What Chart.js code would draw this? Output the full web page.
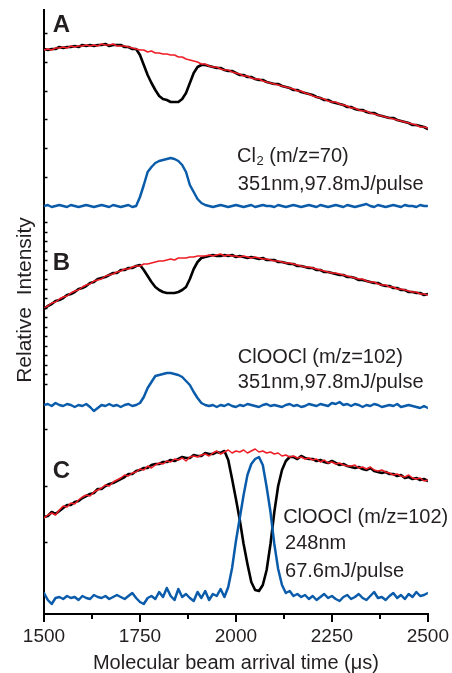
<!DOCTYPE html>
<html><head><meta charset="utf-8">
<script src="https://cdn.jsdelivr.net/npm/chart.js@4.4.0/dist/chart.umd.min.js"></script>
<style>html,body{margin:0;padding:0;background:#fff;}canvas{display:block;}</style>
</head><body>
<canvas id="c" width="452" height="673"></canvas>
<script>
// Molecular beam arrival time (µs)
const times = [1500,1510,1520,1530,1540,1550,1560,1570,1580,1590,1600,1610,1620,1630,1640,1650,1660,1670,1680,1690,1700,1710,1720,1730,1740,1750,1760,1770,1780,1790,1800,1810,1820,1830,1840,1850,1860,1870,1880,1890,1900,1910,1920,1930,1940,1950,1960,1970,1980,1990,2000,2010,2020,2030,2040,2050,2060,2070,2080,2090,2100,2110,2120,2130,2140,2150,2160,2170,2180,2190,2200,2210,2220,2230,2240,2250,2260,2270,2280,2290,2300,2310,2320,2330,2340,2350,2360,2370,2380,2390,2400,2410,2420,2430,2440,2450,2460,2470,2480,2490,2500];

// Panel A: Cl2 (m/z=70), 351 nm
const blackA = [565,564,565,565,567,566,567,567,568,567, 569,568,569,568,569,569,570,568,569,569, 569,567,567,565,565,559,549,539,531,524, 518,515,514,512,512,512,515,521,531,541, 547,549,549,548,547,546,546,544,543,543, 541,539,539,537,537,535,534,534,532,531, 530,530,528,527,526,524,524,522,521,520, 519,517,516,514,514,512,511,510,509,507, 507,505,504,504,502,501,501,499,498,497, 496,496,494,493,492,491,489,489,488,487, 485];
const redA = [564,565,564,566,566,567,566,568,567,568, 568,569,568,569,568,570,569,569,570,568, 568,568,567,566,565,564,564,562,563,561, 561,560,560,559,559,557,557,555,554,553, 552,550,550,548,547,547,545,544,544,542, 541,540,538,538,536,535,535,533,532,531, 530,529,528,527,526,525,523,523,521,520, 518,517,516,515,513,512,512,510,509,508, 506,506,504,503,503,501,500,499,498,497, 496,495,494,493,492,491,490,489,487,487, 486];
const blueA = [408,409,407,408,409,408,407,409,408,407, 408,409,408,407,408,409,408,407,409,408, 407,408,409,407,408,417,429,442,447,451, 453,454,455,456,455,453,449,442,429,422, 415,411,409,408,407,408,409,408,407,408, 409,408,407,408,409,407,408,409,408,408, 407,409,408,407,408,409,408,407,408,409, 408,407,409,408,407,408,409,408,407,409, 408,407,408,409,410,408,407,409,408,407, 408,409,408,407,409,408,408,407,409,408, 408];

// Panel B: ClOOCl (m/z=102), 351 nm
const blackB = [305,308,310,313,314,316,319,320,322,325, 326,328,331,332,335,336,337,339,341,341, 344,344,346,346,348,349,344,338,332,327, 324,322,321,321,321,322,324,327,335,345, 352,356,357,358,359,358,358,359,358,359, 357,358,357,356,357,356,355,356,354,354, 354,352,352,351,350,350,348,348,347,346, 346,344,344,342,342,341,340,339,339,337, 337,336,334,334,333,332,331,331,329,328, 328,326,326,324,324,322,322,321,321,319, 320];
const redB = [306,308,311,312,315,317,318,321,323,324, 327,329,330,333,334,335,338,339,340,342, 343,345,345,347,348,348,350,350,351,352, 353,353,354,355,354,356,356,356,357,357, 358,358,358,359,358,359,360,358,359,358, 358,357,358,357,356,357,356,355,355,354, 353,353,352,351,351,350,349,348,347,347, 346,345,344,343,342,341,341,340,339,338, 337,336,335,335,333,332,332,330,329,329, 327,327,325,325,324,323,322,322,320,320, 319];
const blueB = [209,210,208,211,209,208,210,209,207,209, 208,210,207,203,206,209,208,210,208,209, 207,209,210,208,209,211,217,226,232,238, 239,240,241,241,240,239,237,233,229,222, 216,211,209,208,209,207,209,208,210,208, 207,209,208,210,209,208,207,209,210,208, 209,208,207,209,210,208,209,207,208,210, 209,208,210,209,208,211,210,212,209,210, 208,210,209,207,209,208,210,209,207,208, 209,208,210,207,208,209,208,207,206,208, 206];

// Panel C: ClOOCl (m/z=102), 248 nm
const blackC = [97,98,102,100,103,106,109,109,112,113, 116,118,120,121,125,125,128,130,131,133, 135,137,140,140,143,144,146,146,149,150, 150,152,152,154,153,155,157,156,156,159, 158,158,161,160,160,162,161,163,154,135, 115,94,70,50,32,24,23,29,44,70, 102,128,144,153,157,157,155,158,156,155, 155,153,154,152,151,153,151,149,150,148, 147,146,147,145,144,146,143,142,141,142, 140,140,138,139,136,137,135,136,134,135, 133];
const redC = [96,99,101,99,104,108,107,111,110,114, 117,119,118,122,124,126,129,128,132,134, 136,139,138,141,142,145,144,148,146,149, 151,150,153,152,155,154,156,153,157,158, 157,159,160,158,161,163,160,162,164,161, 163,162,164,161,163,165,162,163,161,162, 160,161,158,159,157,158,156,157,155,156, 154,155,152,154,151,152,150,151,149,148, 148,149,146,147,145,147,144,143,144,142, 141,139,140,138,137,139,136,135,136,133, 134];
const blueC = [21,14,10,16,17,15,18,16,17,14, 18,16,15,19,17,16,18,15,17,19, 17,15,18,21,16,12,10,16,18,15, 22,17,26,18,14,25,17,20,16,13, 22,16,23,14,20,18,25,17,27,46, 73,96,119,139,150,155,157,149,127,102, 70,45,29,21,23,18,20,17,19,15, 18,14,17,20,16,18,15,13,17,19, 15,17,20,16,14,18,22,16,17,14, 18,21,16,19,15,20,17,22,18,19, 21];

// Axis ticks
const xMajor = [1500,1750,2000,2250,2500];
const xMinor = [1625,1875,2125,2375];
const yTicks = [581,552,523,495,466,437, 392,382,373,363,354,344,335,325,316,306,297,287,278,268,259,249,240,230, 185,128,72];

const FONT = '"Liberation Sans", Arial, Helvetica, sans-serif';
const INK = '#231f20';
const BLACK = '#000000', RED = '#ee1d25', BLUE = '#0a5cab';

const pts = vals => vals.map((v, i) => ({x: times[i], y: v}));
const ds = (vals, color, w) => ({data: pts(vals), borderColor: color, borderWidth: w, pointRadius: 0, fill: false, tension: 0});

const decor = {
  id: 'decor',
  afterDraw(chart) {
    const {ctx, chartArea: ca} = chart;
    const x = chart.scales.x, y = chart.scales.y;
    ctx.save();
    ctx.strokeStyle = '#000';
    ctx.lineWidth = 1.5;
    yTicks.forEach(v => {
      const py = Math.round(y.getPixelForValue(v)) + 0.5;
      ctx.beginPath(); ctx.moveTo(ca.left, py); ctx.lineTo(ca.left + 3.5, py); ctx.stroke();
    });
    ctx.lineWidth = 2;
    xMinor.forEach(v => {
      const px = Math.round(x.getPixelForValue(v));
      ctx.beginPath(); ctx.moveTo(px, ca.bottom); ctx.lineTo(px, ca.bottom + 5); ctx.stroke();
    });
    ctx.fillStyle = INK;
    ctx.textBaseline = 'alphabetic';
    ctx.textAlign = 'left';
    const X = v => x.getPixelForValue(v), Y = v => y.getPixelForValue(v);
    // panel letters
    ctx.font = 'bold 24px ' + FONT;
    ctx.fillText('A', X(1523), Y(582.5));
    ctx.fillText('B', X(1523), Y(344));
    ctx.fillText('C', X(1523), Y(136));
    // annotations
    ctx.font = '20px ' + FONT;
    let px = X(2003), py = Y(452);
    ctx.fillText('Cl', px, py);
    px += ctx.measureText('Cl').width;
    ctx.font = '13px ' + FONT;
    ctx.fillText('2', px + 0.5, py + 3);
    px += ctx.measureText('2').width + 0.5;
    ctx.font = '20px ' + FONT;
    ctx.fillText(' (m/z=70)', px, py);
    ctx.fillText('351nm,97.8mJ/pulse', X(2005), Y(424));
    ctx.fillText('ClOOCl (m/z=102)', X(2005), Y(251));
    ctx.fillText('351nm,97.8mJ/pulse', X(2005), Y(226));
    ctx.fillText('ClOOCl (m/z=102)', X(2123), Y(91));
    ctx.fillText('248nm', X(2128), Y(65));
    ctx.fillText('67.6mJ/pulse', X(2128), Y(37));
    // y title
    ctx.font = '21px ' + FONT;
    ctx.translate(25, Y(314));
    ctx.rotate(-Math.PI / 2);
    ctx.textAlign = 'center';
    ctx.textBaseline = 'middle';
    ctx.fillText('Relative  Intensity', 0, 0);
    ctx.restore();
  }
};

// Chart.js paints the first dataset on top, so each panel lists blue, red, black.
new Chart(document.getElementById('c'), {
  type: 'line',
  data: {datasets: [
    ds(blueA, BLUE, 2.5), ds(redA, RED, 1.5), ds(blackA, BLACK, 2.6),
    ds(blueB, BLUE, 2.5), ds(redB, RED, 1.5), ds(blackB, BLACK, 2.6),
    ds(blueC, BLUE, 2.5), ds(redC, RED, 1.5), ds(blackC, BLACK, 2.6)
  ]},
  options: {
    responsive: false,
    animation: false,
    layout: {padding: {left: 0, right: 24, top: 10, bottom: 0}},
    plugins: {legend: {display: false}, tooltip: {enabled: false}},
    elements: {line: {borderJoinStyle: 'round', borderCapStyle: 'round'}},
    scales: {
      x: {
        type: 'linear', min: 1500, max: 2500,
        afterBuildTicks: s => { s.ticks = xMajor.concat(xMinor).sort((a, b) => a - b).map(v => ({value: v})); },
        afterFit: s => { s.height = 59; },
        ticks: {
          autoSkip: false, maxRotation: 0, minRotation: 0, padding: 3, color: INK,
          font: {family: FONT, size: 19},
          callback: v => xMajor.includes(v) ? String(v) : ''
        },
        grid: {
          display: true, drawOnChartArea: false, drawTicks: true, tickLength: 8,
          tickWidth: 2, lineWidth: 2, color: '#000',
          tickColor: c => (c.tick && xMajor.includes(c.tick.value)) ? '#000' : 'rgba(0,0,0,0)'
        },
        border: {display: true, color: '#000', width: 2},
        title: {display: true, text: 'Molecular beam arrival time (μs)', color: INK,
          font: {family: FONT, size: 20, lineHeight: 1}, padding: {top: 0, bottom: 0}}
      },
      y: {
        type: 'linear', min: 0, max: 604,
        afterBuildTicks: s => { s.ticks = yTicks.map(v => ({value: v})); },
        afterFit: s => { s.width = 44; },
        ticks: {display: false},
        grid: {display: false},
        border: {display: true, color: '#000', width: 2}
      }
    }
  },
  plugins: [decor]
});
</script>
</body></html>
